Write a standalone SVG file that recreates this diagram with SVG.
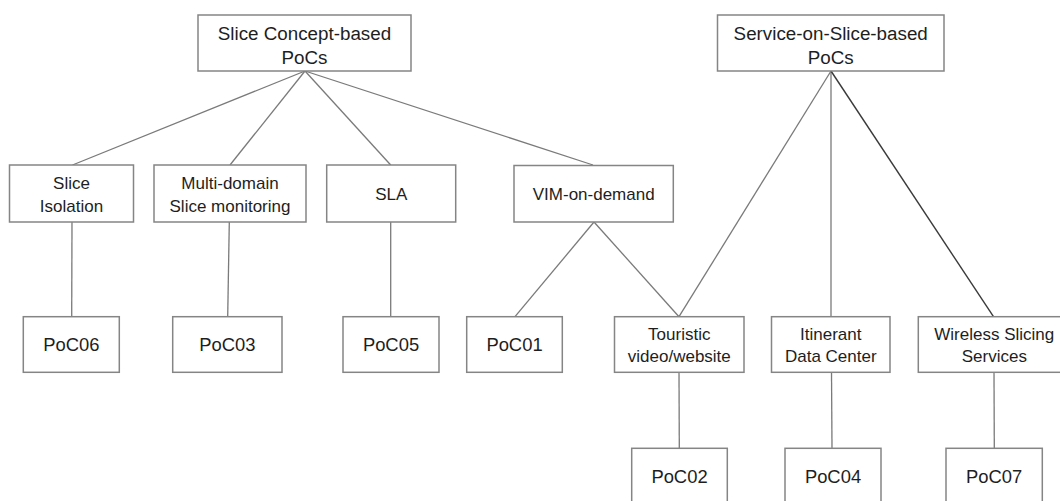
<svg xmlns="http://www.w3.org/2000/svg" width="1060" height="501" viewBox="0 0 1060 501">
  <style>
    .box { fill: #ffffff; stroke: #858585; stroke-width: 1.5; }
    .edge { fill: none; stroke: #7a7a7a; stroke-width: 1.3; }
    .edge.dark { stroke: #3a3a3a; stroke-width: 1.4; }
    text { font-family: "Liberation Sans", Arial, sans-serif; fill: #1e1e1e; text-anchor: middle; }
    .t { font-size: 18.8px; }
    .m { font-size: 17px; }
    .p { font-size: 18.4px; }
  </style>
  <rect width="1060" height="501" fill="#ffffff"/>

  <!-- connectors -->
  <g id="connectors">
    <line class="edge" x1="305" y1="71" x2="72.5" y2="165"/>
    <line class="edge" x1="305" y1="71" x2="230" y2="165"/>
    <line class="edge" x1="305" y1="71" x2="390.7" y2="165"/>
    <line class="edge" x1="305" y1="71" x2="593" y2="165"/>
    <line class="edge" x1="831" y1="71" x2="679" y2="316.7"/>
    <line class="edge" x1="831" y1="71" x2="831" y2="316.7"/>
    <line class="edge dark" x1="831" y1="71" x2="993.5" y2="316.7"/>
    <line class="edge" x1="72" y1="222" x2="71.7" y2="316.7"/>
    <line class="edge" x1="229.3" y1="222" x2="227.7" y2="316.7"/>
    <line class="edge" x1="390.7" y1="222" x2="390.7" y2="316.7"/>
    <line class="edge" x1="594" y1="222" x2="515" y2="316.7"/>
    <line class="edge" x1="594" y1="222" x2="679" y2="316.7"/>
    <line class="edge" x1="679" y1="372.3" x2="679.3" y2="448.3"/>
    <line class="edge" x1="831.5" y1="372.3" x2="832" y2="448.3"/>
    <line class="edge" x1="994" y1="372.3" x2="994.3" y2="448.3"/>
  </g>

  <!-- top level -->
  <g id="slice-concept">
    <rect class="box" x="198" y="15" width="213" height="56"/>
    <text class="t" x="304.5" y="40">Slice Concept-based</text>
    <text class="t" x="304.5" y="63.5">PoCs</text>
  </g>
  <g id="service-on-slice">
    <rect class="box" x="717.5" y="15" width="226.5" height="56"/>
    <text class="t" x="830.7" y="40">Service-on-Slice-based</text>
    <text class="t" x="830.7" y="63.5">PoCs</text>
  </g>

  <!-- second level -->
  <g id="slice-isolation">
    <rect class="box" x="9.5" y="165" width="124" height="57"/>
    <text class="m" x="71.5" y="189">Slice</text>
    <text class="m" x="71.5" y="212">Isolation</text>
  </g>
  <g id="multi-domain">
    <rect class="box" x="154" y="165" width="152" height="57"/>
    <text class="m" x="230" y="189">Multi-domain</text>
    <text class="m" x="230" y="212">Slice monitoring</text>
  </g>
  <g id="sla">
    <rect class="box" x="326.7" y="165" width="129" height="57"/>
    <text class="m" x="391.2" y="199.6">SLA</text>
  </g>
  <g id="vim-on-demand">
    <rect class="box" x="514" y="165.5" width="159.3" height="56.5"/>
    <text class="m" x="593.7" y="199.6">VIM-on-demand</text>
  </g>

  <!-- third level -->
  <g id="poc06">
    <rect class="box" x="23.3" y="316.7" width="96" height="55.6"/>
    <text class="p" x="71.3" y="351.3">PoC06</text>
  </g>
  <g id="poc03">
    <rect class="box" x="172.7" y="316.7" width="109.3" height="55.6"/>
    <text class="p" x="227.3" y="351.3">PoC03</text>
  </g>
  <g id="poc05">
    <rect class="box" x="343" y="316.7" width="96" height="55.6"/>
    <text class="p" x="391" y="351.3">PoC05</text>
  </g>
  <g id="poc01">
    <rect class="box" x="466.7" y="316.7" width="95.6" height="55.6"/>
    <text class="p" x="514.5" y="351.3">PoC01</text>
  </g>
  <g id="touristic">
    <rect class="box" x="614.5" y="316.7" width="129.5" height="55.6"/>
    <text class="m" x="679.3" y="340">Touristic</text>
    <text class="m" x="679.3" y="362.3">video/website</text>
  </g>
  <g id="itinerant">
    <rect class="box" x="771.5" y="316.7" width="118.5" height="55.6"/>
    <text class="m" x="830.8" y="340">Itinerant</text>
    <text class="m" x="830.8" y="362.3">Data Center</text>
  </g>
  <g id="wireless">
    <rect class="box" x="918.3" y="316.7" width="152" height="55.6"/>
    <text class="m" x="994.3" y="340">Wireless Slicing</text>
    <text class="m" x="994.3" y="362.3">Services</text>
  </g>

  <!-- fourth level -->
  <g id="poc02">
    <rect class="box" x="631.7" y="448.3" width="95.6" height="56"/>
    <text class="p" x="679.5" y="482.7">PoC02</text>
  </g>
  <g id="poc04">
    <rect class="box" x="785" y="448.3" width="96" height="56"/>
    <text class="p" x="833" y="482.7">PoC04</text>
  </g>
  <g id="poc07">
    <rect class="box" x="946" y="448.3" width="96.3" height="56"/>
    <text class="p" x="994.2" y="482.7">PoC07</text>
  </g>
</svg>
